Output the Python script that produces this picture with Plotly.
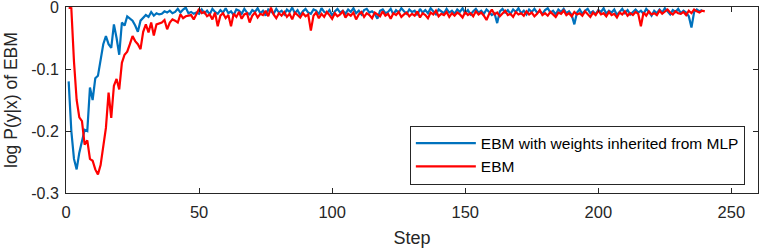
import plotly.graph_objects as go

blue_name = "EBM with weights inherited from MLP"
red_name = "EBM"
x_title = "Step"
y_title = "log P(y|x) of EBM"

blue_vals = [
    -0.120, -0.200, -0.245, -0.262, -0.235, -0.215, -0.198, -0.200, -0.130, -0.150,
    -0.115, -0.111, -0.085, -0.060, -0.047, -0.060, -0.066, -0.028, -0.050, -0.077,
    -0.025, -0.030, -0.015, -0.018, -0.022, -0.030, -0.040, -0.022, -0.018, -0.013,
    -0.016, -0.008, -0.014, -0.010, -0.012, -0.011, -0.007, -0.009, -0.006, -0.010,
    -0.008, -0.003, -0.009, -0.004, -0.001, -0.010, -0.008, -0.011, -0.009, -0.011,
    -0.004, -0.010, -0.006, -0.012, -0.003, -0.008, -0.011, -0.005, -0.009, -0.002,
    -0.010, -0.007, -0.013, -0.004, -0.006, -0.011, -0.003, -0.009, -0.012, -0.005,
    -0.008, -0.002, -0.010, -0.006, -0.014, -0.004, -0.007, -0.011, -0.003, -0.009,
    -0.006, -0.012, -0.004, -0.008, -0.001, -0.010, -0.005, -0.013, -0.007, -0.003,
    -0.009, -0.011, -0.004, -0.006, -0.012, -0.002, -0.008, -0.010, -0.005, -0.014,
    -0.007, -0.003, -0.009, -0.006, -0.011, -0.004, -0.008, -0.002, -0.010, -0.006,
    -0.012, -0.005, -0.003, -0.009, -0.007, -0.011, -0.019, -0.006, -0.004, -0.010,
    -0.008, -0.003, -0.012, -0.005, -0.009, -0.002, -0.007, -0.011, -0.004, -0.008,
    -0.006, -0.013, -0.003, -0.009, -0.005, -0.010, -0.002, -0.008, -0.012, -0.004,
    -0.007, -0.010, -0.003, -0.009, -0.006, -0.011, -0.004, -0.008, -0.002, -0.010,
    -0.005, -0.012, -0.007, -0.003, -0.009, -0.006, -0.011, -0.004, -0.008, -0.013,
    -0.010, -0.026, -0.007, -0.003, -0.009, -0.005, -0.011, -0.004, -0.008, -0.002,
    -0.010, -0.006, -0.012, -0.004, -0.008, -0.003, -0.009, -0.007, -0.011, -0.005,
    -0.002, -0.009, -0.006, -0.012, -0.004, -0.008, -0.003, -0.010, -0.007, -0.013,
    -0.028, -0.009, -0.004, -0.011, -0.006, -0.003, -0.010, -0.007, -0.012, -0.005,
    -0.008, -0.002, -0.011, -0.006, -0.009, -0.004, -0.013, -0.007, -0.003, -0.010,
    -0.005, -0.012, -0.008, -0.004, -0.009, -0.006, -0.011, -0.003, -0.008, -0.014,
    -0.006, -0.010, -0.004, -0.009, -0.002, -0.007, -0.012, -0.005, -0.008, -0.003,
    -0.010, -0.006, -0.009, -0.015, -0.033, -0.008, -0.004, -0.007, -0.005,
]

red_vals = [
    -0.001, -0.002, -0.088, -0.150, -0.178, -0.184, -0.222, -0.215, -0.245, -0.248,
    -0.262, -0.270, -0.255, -0.225, -0.195, -0.138, -0.179, -0.127, -0.116, -0.133,
    -0.090, -0.077, -0.072, -0.060, -0.047, -0.055, -0.060, -0.068, -0.040, -0.028,
    -0.041, -0.025, -0.046, -0.028, -0.026, -0.025, -0.021, -0.036, -0.025, -0.020,
    -0.022, -0.025, -0.012, -0.018, -0.015, -0.014, -0.013, -0.020, -0.010, -0.003,
    -0.010, -0.008, -0.015, -0.012, -0.020, -0.009, -0.031, -0.014, -0.010, -0.018,
    -0.013, -0.031, -0.011, -0.016, -0.008, -0.019, -0.012, -0.010, -0.025, -0.014,
    -0.009, -0.017, -0.011, -0.013, -0.006, -0.015, -0.001, -0.012, -0.018, -0.010,
    -0.014, -0.008, -0.016, -0.011, -0.020, -0.009, -0.013, -0.017, -0.010, -0.015,
    -0.012, -0.038, -0.014, -0.009, -0.018, -0.011, -0.016, -0.008, -0.013, -0.019,
    -0.010, -0.015, -0.012, -0.007, -0.017, -0.011, -0.014, -0.009, -0.020, -0.012,
    -0.008, -0.016, -0.010, -0.013, -0.018, -0.009, -0.012, -0.015, -0.007, -0.014,
    -0.011, -0.019, -0.010, -0.013, -0.008, -0.016, -0.012, -0.009, -0.015, -0.011,
    -0.014, -0.007, -0.017, -0.010, -0.013, -0.018, -0.009, -0.012, -0.006, -0.015,
    -0.011, -0.013, -0.008, -0.016, -0.010, -0.014, -0.009, -0.012, -0.017, -0.008,
    -0.013, -0.010, -0.015, -0.007, -0.012, -0.009, -0.014, -0.021, -0.011, -0.004,
    -0.012, -0.009, -0.015, -0.010, -0.006, -0.013, -0.011, -0.016, -0.008, -0.012,
    -0.010, -0.014, -0.007, -0.012, -0.009, -0.015, -0.011, -0.005, -0.013, -0.010,
    -0.014, -0.008, -0.012, -0.016, -0.009, -0.011, -0.006, -0.013, -0.010, -0.015,
    -0.008, -0.012, -0.010, -0.014, -0.007, -0.011, -0.016, -0.009, -0.013, -0.006,
    -0.012, -0.010, -0.015, -0.008, -0.013, -0.011, -0.017, -0.009, -0.012, -0.007,
    -0.014, -0.010, -0.013, -0.008, -0.011, -0.031, -0.009, -0.014, -0.007, -0.012,
    -0.010, -0.013, -0.006, -0.011, -0.008, -0.004, -0.009, -0.012, -0.007, -0.010,
    -0.011, -0.008, -0.013, -0.006, -0.010, -0.004, -0.007, -0.009, -0.006, -0.007,
]

blue_steps = list(range(1, len(blue_vals) + 1))
red_steps = list(range(1, len(red_vals) + 1))

x_tickvals = [0, 50, 100, 150, 200, 250]
x_ticktext = ["0", "50", "100", "150", "200", "250"]
y_tickvals = [0, -0.1, -0.2, -0.3]
y_ticktext = ["0", "-0.1", "-0.2", "-0.3"]

FONT = "Liberation Sans, Arial, Helvetica, sans-serif"
AXC = "#262626"

fig = go.Figure()
fig.add_trace(go.Scatter(x=blue_steps, y=blue_vals, mode="lines", name=blue_name,
                         line=dict(color="#0072BD", width=2.2)))
fig.add_trace(go.Scatter(x=red_steps, y=red_vals, mode="lines", name=red_name,
                         line=dict(color="#FF0000", width=2.2)))

fig.update_layout(
    width=761, height=250,
    margin=dict(l=66, r=3, t=7, b=57, autoexpand=False),
    paper_bgcolor="white", plot_bgcolor="white",
    font=dict(family=FONT, size=16, color=AXC),
    showlegend=True,
    legend=dict(x=0.981, y=0.045, xanchor="right", yanchor="bottom",
                bgcolor="white", bordercolor=AXC, borderwidth=1,
                font=dict(family=FONT, size=15.5, color="black"),
                tracegroupgap=0, itemwidth=60),
    xaxis=dict(range=[0, 260], tickvals=x_tickvals, ticktext=x_ticktext,
               automargin=False, ticklabelstandoff=4, ticklabeloverflow="allow",
               showgrid=False, zeroline=False, showline=True, linecolor=AXC,
               linewidth=1, mirror="allticks", ticks="inside", ticklen=5,
               tickcolor=AXC, tickfont=dict(size=16.5, color=AXC),
               title=dict(text=x_title, font=dict(size=18, color=AXC), standoff=11)),
    yaxis=dict(range=[-0.3, 0], tickvals=y_tickvals, ticktext=y_ticktext,
               automargin=False, ticklabelstandoff=3, ticklabeloverflow="allow",
               showgrid=False, zeroline=False, showline=True, linecolor=AXC,
               linewidth=1, mirror="allticks", ticks="inside", ticklen=5,
               tickcolor=AXC, tickfont=dict(size=16, color=AXC)),
    annotations=[dict(text=y_title, textangle=-90, xref="paper", yref="paper",
                      x=0, y=0.5, xanchor="center", yanchor="middle",
                      xshift=-55, showarrow=False,
                      font=dict(family=FONT, size=17.5, color=AXC))],
)

fig.write_html("out.html", config={"displayModeBar": False},
               post_script="document.body.style.margin='0';document.body.style.overflow='hidden';")
